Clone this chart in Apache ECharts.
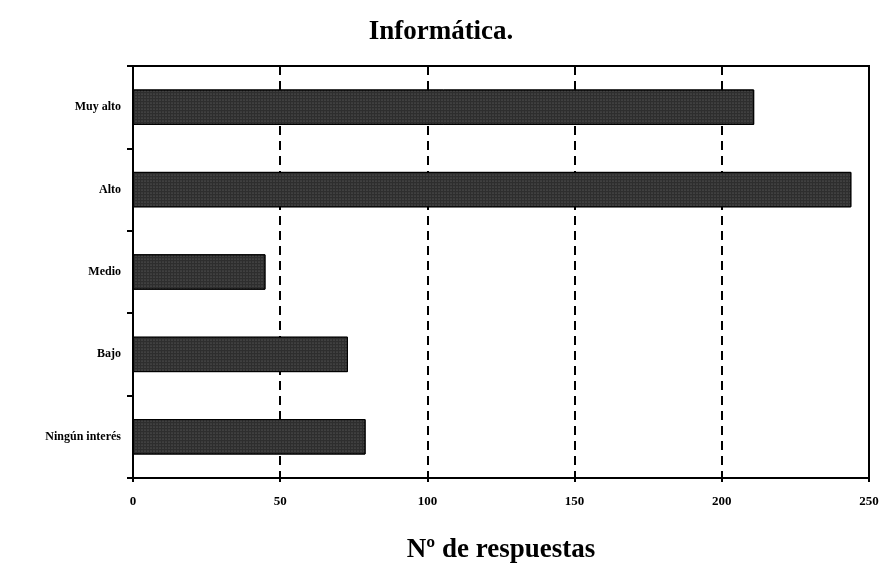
<!DOCTYPE html>
<html>
<head>
<meta charset="utf-8">
<script src="https://cdn.jsdelivr.net/npm/echarts@6/dist/echarts.min.js"></script>
<style>
  html, body { margin: 0; padding: 0; background: #fff; }
  #chart { width: 882px; height: 565px; }
</style>
</head>
<body>
<div id="chart"></div>
<script>
// categorías de abajo a arriba (eje de categorías horizontal invertido)
const categorias = ['Ningún interés', 'Bajo', 'Medio', 'Alto', 'Muy alto'];
const respuestas = [79, 73, 45, 244, 211];
const ticksX = [0, 50, 100, 150, 200, 250];

const serif = '"Liberation Serif", "DejaVu Serif", serif';

const chart = echarts.init(document.getElementById('chart'));
chart.setOption({
  backgroundColor: '#fff',
  animation: false,
  title: {
    text: 'Informática.',
    left: 'center',
    top: 14,
    textStyle: { fontFamily: serif, fontWeight: 'bold', fontSize: 27, color: '#000' }
  },
  grid: {
    left: 133, right: 13, top: 66, bottom: 87,
    outerBoundsMode: 'none', containLabel: false,
    show: true, borderColor: '#000', borderWidth: 2
  },
  xAxis: {
    type: 'value',
    min: ticksX[0],
    max: ticksX[ticksX.length - 1],
    interval: 50,
    name: 'Nº de respuestas',
    nameLocation: 'middle',
    nameGap: 59,
    nameTextStyle: { fontFamily: serif, fontWeight: 'bold', fontSize: 27, color: '#000' },
    axisLine: { show: true, lineStyle: { color: '#000', width: 2 } },
    axisTick: { show: true, inside: false, length: 4, lineStyle: { color: '#000', width: 2 } },
    axisLabel: { margin: 17, fontFamily: serif, fontWeight: 'bold', fontSize: 13, color: '#000' },
    splitLine: { show: true, lineStyle: { color: '#000', width: 2, type: [9, 6] } }
  },
  yAxis: {
    type: 'category',
    data: categorias,
    axisLine: { show: true, lineStyle: { color: '#000', width: 2 } },
    axisTick: { show: true, length: 6, lineStyle: { color: '#000', width: 2 } },
    axisLabel: { margin: 12, fontFamily: serif, fontWeight: 'bold', fontSize: 12, color: '#000' },
    splitLine: { show: false }
  },
  series: [{
    type: 'bar',
    data: respuestas,
    barWidth: '43%',
    itemStyle: {
      color: '#2e2e2e',
      borderColor: '#000',
      borderWidth: 1,
      decal: {
        symbol: 'circle',
        symbolSize: 0.5,
        color: 'rgba(255,255,255,0.4)',
        dashArrayX: [2, 1],
        dashArrayY: [2, 1],
        rotation: 0
      }
    }
  }]
});
</script>
</body>
</html>
